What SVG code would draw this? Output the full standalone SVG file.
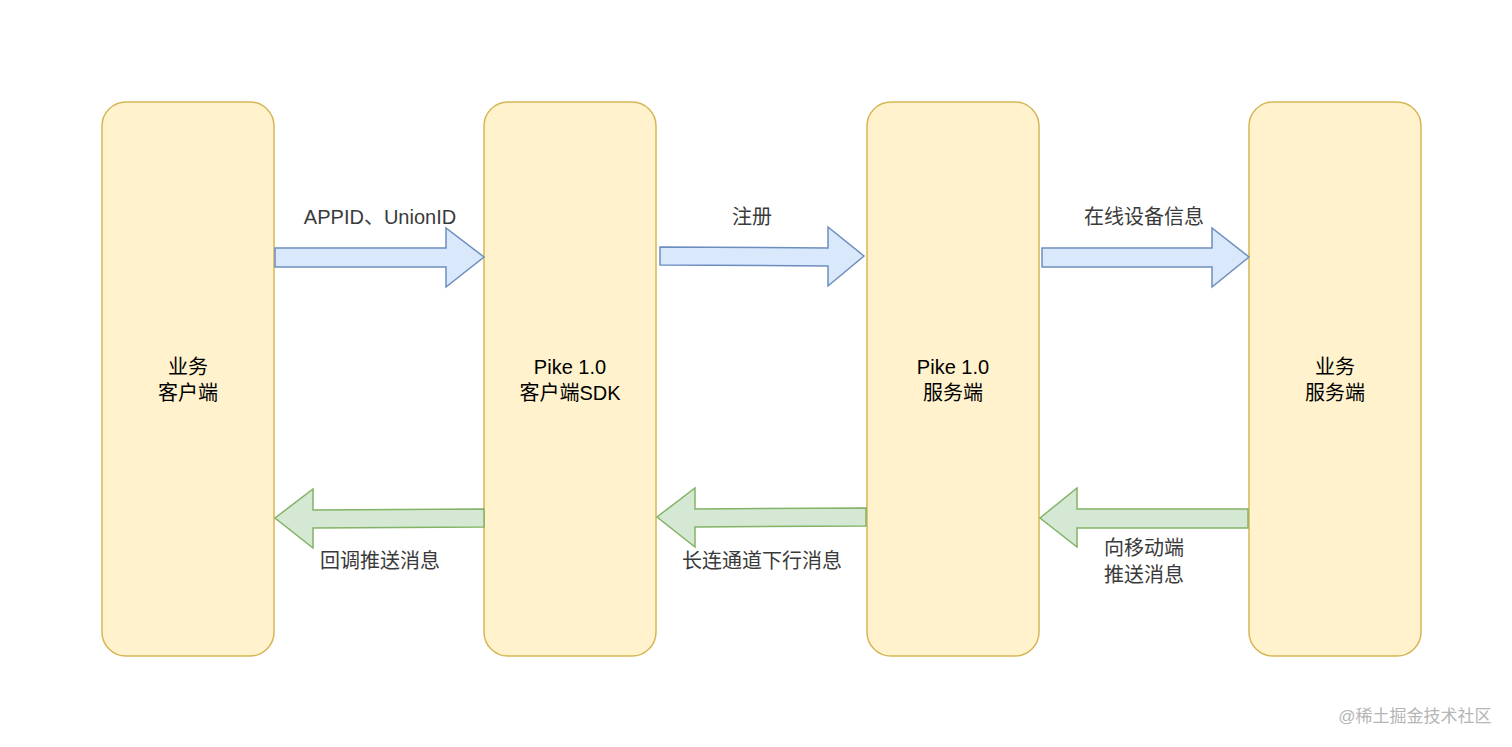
<svg xmlns="http://www.w3.org/2000/svg" width="1512" height="747" viewBox="0 0 1512 747">
<style>
.box{fill:#fff2cc;stroke:#d6b656;stroke-width:1.5}
.ra{fill:#dae8fc;stroke:#6c8ebf;stroke-width:1.5}
.la{fill:#d5e8d4;stroke:#82b366;stroke-width:1.5}
text{font-family:"Liberation Sans","Noto Sans CJK SC",sans-serif;font-size:20px;text-anchor:middle}
.n{fill:#000}
.l{fill:#3a3a3a}
</style>
<rect width="1512" height="747" fill="#fff"/>
<g id="n1"><rect class="box" x="102" y="102" width="172" height="554" rx="24"/><text class="n" x="188" y="374">业务</text><text class="n" x="188" y="400">客户端</text></g>
<g id="n2"><rect class="box" x="484" y="102" width="172" height="554" rx="24"/><text class="n" x="570" y="374">Pike 1.0</text><text class="n" x="570" y="400">客户端SDK</text></g>
<g id="n3"><rect class="box" x="867" y="102" width="172" height="554" rx="24"/><text class="n" x="953" y="374">Pike 1.0</text><text class="n" x="953" y="400">服务端</text></g>
<g id="n4"><rect class="box" x="1249" y="102" width="172" height="554" rx="24"/><text class="n" x="1335" y="374">业务</text><text class="n" x="1335" y="400">服务端</text></g>
<g id="connectors">
<polygon class="ra" points="275,248 446,248 446,228 484,257 446,287 446,267 275,267"/>
<polygon class="ra" points="660,247 828,248 828,227 864,256 828,286 828,266 660,265"/>
<polygon class="ra" points="1042,248 1212,248 1212,228 1249,257 1212,287 1212,267 1042,267"/>
<polygon class="la" points="484,509 313,510 313,489 275,518 313,548 313,528 484,527"/>
<polygon class="la" points="866,508 695,509 695,488 657,517 695,547 695,527 866,526"/>
<polygon class="la" points="1248,509 1077,509 1077,488 1040,518 1077,547 1077,528 1248,528"/>
<text class="l" x="380" y="224">APPID、UnionID</text>
<text class="l" x="752" y="224">注册</text>
<text class="l" x="1144" y="224">在线设备信息</text>
<text class="l" x="380" y="568">回调推送消息</text>
<text class="l" x="762" y="568">长连通道下行消息</text>
<text class="l" x="1144" y="555">向移动端</text>
<text class="l" x="1144" y="582">推送消息</text>
</g>
<text x="1415" y="722" style="font-size:17px;fill:#b5b5b5">@稀土掘金技术社区</text>
</svg>
